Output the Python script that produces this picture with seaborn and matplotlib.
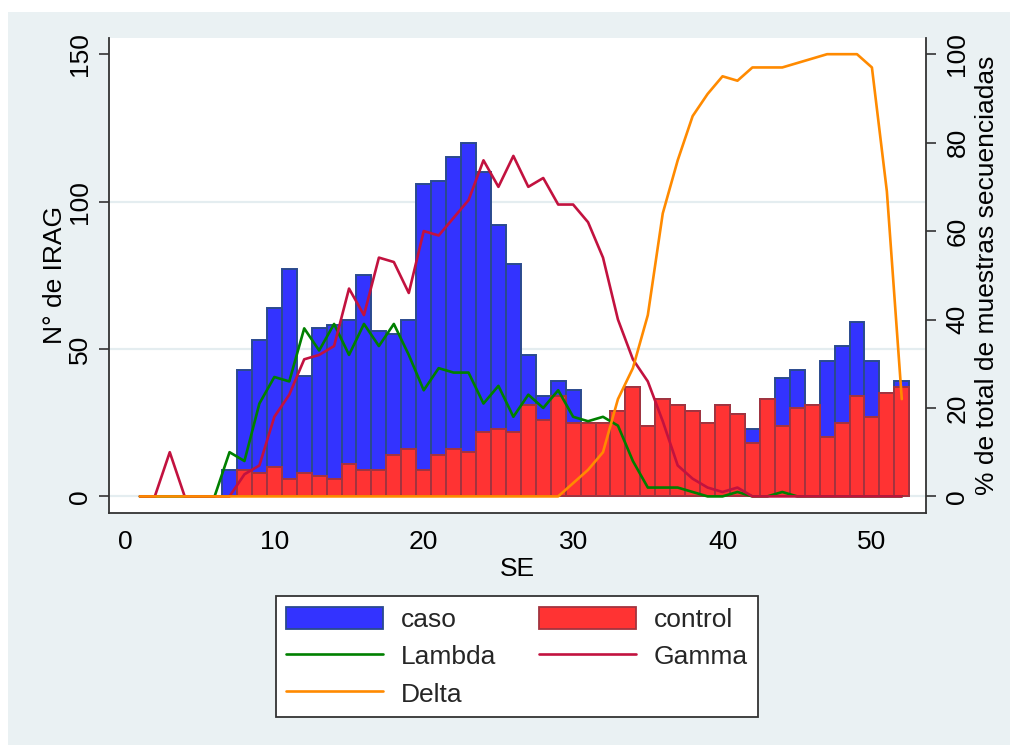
import matplotlib
matplotlib.use("Agg")
import matplotlib.pyplot as plt
import seaborn as sns
import pandas as pd
from matplotlib.patches import Rectangle, Patch
from matplotlib.lines import Line2D

# semanas epidemiologicas
weeks = list(range(1, 53))
bar_weeks = list(range(7, 53))

# N de IRAG por semana (semanas 7-52)
caso = [9, 43, 53, 64, 77, 41, 57, 58, 60, 75, 56, 55, 60, 106, 107, 115, 120,
        110, 92, 79, 48, 34, 39, 36, 25, 25, 29, 37, 24, 33, 31, 29, 25, 31, 28,
        23, 33, 40, 43, 31, 46, 51, 59, 46, 35, 39]
control = [0, 9, 8, 10, 6, 8, 7, 6, 11, 9, 9, 14, 16, 9, 14, 16, 15,
           22, 23, 22, 31, 26, 34, 25, 25, 25, 29, 37, 24, 33, 31, 29, 25, 31, 28,
           18, 33, 24, 30, 31, 20, 25, 34, 27, 35, 37]

# % de muestras secuenciadas por variante (semanas 1-52)
lambda_pct = [0, 0, 0, 0, 0, 0, 10, 8, 21, 27, 26, 38, 33, 39, 32, 39, 34, 39,
              32, 24, 29, 28, 28, 21, 25, 18, 23, 20, 24, 18, 17, 18, 16, 8, 2,
              2, 2, 1, 0, 0, 1, 0, 0, 1, 0, 0, 0, 0, 0, 0, 0, 0]
gamma_pct = [0, 0, 10, 0, 0, 0, 0, 5, 7, 18, 23, 31, 32, 34, 47, 41, 54, 53,
             46, 60, 59, 63, 67, 76, 70, 77, 70, 72, 66, 66, 62, 54, 40, 31, 26,
             17, 7, 4, 2, 1, 2, 0, 0, 0, 0, 0, 0, 0, 0, 0, 0, 0]
delta_pct = [0, 0, 0, 0, 0, 0, 0, 0, 0, 0, 0, 0, 0, 0, 0, 0, 0, 0, 0, 0, 0, 0,
             0, 0, 0, 0, 0, 0, 0, 3, 6, 10, 22, 29, 41, 64, 76, 86, 91, 95, 94,
             97, 97, 97, 98, 99, 100, 100, 100, 97, 69, 22]

BG = "#EAF1F3"
BLUE, BLUE_EDGE = "#3333FF", "#2A4A8E"
RED, RED_EDGE = "#FF3333", "#A3343F"
GREEN, CRIMSON, ORANGE = "#008000", "#C2123F", "#FF8A00"
AXC = "#333333"
FS = 19
LW = 1.9

sns.set_theme(style="white")
plt.rcParams["font.family"] = ["Liberation Sans", "DejaVu Sans"]

W, H = 1010, 745
fig = plt.figure(figsize=(W / 100, H / 100), dpi=100)
fig.patch.set_facecolor("white")
fig.add_artist(Rectangle((8 / W, 0), 1, 1 - 12 / H, transform=fig.transFigure,
                         facecolor=BG, edgecolor="none", zorder=-10))

left, right, top, bottom = 108.5, 926, 37.5, 513
ax = fig.add_axes([left / W, 1 - bottom / H, (right - left) / W, (bottom - top) / H])
ax.set_facecolor("white")

bars = pd.DataFrame({"SE": bar_weeks, "caso": caso, "control": control})
sns.barplot(data=bars, x="SE", y="caso", native_scale=True, orient="x", width=1,
            color=BLUE, edgecolor=BLUE_EDGE, linewidth=1.4, saturation=1,
            errorbar=None, ax=ax)
sns.barplot(data=bars, x="SE", y="control", native_scale=True, orient="x", width=1,
            color=RED, edgecolor=RED_EDGE, linewidth=1.4, saturation=1,
            errorbar=None, ax=ax)

ylo, yhi = -5.63, 155.66
ax.set_xlim(-1.10, 53.62)
ax.set_ylim(ylo, yhi)
ax.set_xticks(range(0, 51, 10))
ax.set_xticklabels([str(v) for v in range(0, 51, 10)], fontsize=FS)
ax.set_yticks([0, 50, 100, 150])
ax.set_yticklabels(["0", "50", "100", "150"], rotation=90, va="center", fontsize=FS)
ax.yaxis.grid(True, color="#E4EDF0", linewidth=1.6)
ax.get_ygridlines()[-1].set_visible(False)
ax.set_axisbelow(True)
ax.tick_params(axis="both", length=7.2, width=1.2, color=AXC, labelcolor="black")
ax.tick_params(axis="x", pad=5)
ax.tick_params(axis="y", pad=4.5)
for s in ["top", "right"]:
    ax.spines[s].set_visible(False)
for s in ["left", "bottom"]:
    ax.spines[s].set_color(AXC)
    ax.spines[s].set_linewidth(1.3)

ax.set_xlabel("SE", fontsize=FS, color="black")
ax.xaxis.set_label_coords(0.5, (bottom - 557.5) / (bottom - top))
ax.set_ylabel("N° de IRAG", fontsize=FS, color="black")
ax.yaxis.set_label_coords((67 - left) / (right - left), 0.5)

ax2 = ax.twinx()
sns.lineplot(x=weeks, y=lambda_pct, color=GREEN, linewidth=LW, ax=ax2)
sns.lineplot(x=weeks, y=gamma_pct, color=CRIMSON, linewidth=LW, ax=ax2)
sns.lineplot(x=weeks, y=delta_pct, color=ORANGE, linewidth=LW, ax=ax2)
ax2.set_ylim(ylo * 100 / 150, yhi * 100 / 150)
ax2.set_yticks(range(0, 101, 20))
ax2.set_yticklabels([str(v) for v in range(0, 101, 20)], rotation=90, va="center",
                    fontsize=FS)
ax2.tick_params(axis="y", length=7.2, width=1.2, color=AXC, labelcolor="black", pad=6.8)
for s in ["top", "left", "bottom"]:
    ax2.spines[s].set_visible(False)
ax2.spines["right"].set_color(AXC)
ax2.spines["right"].set_linewidth(1.3)
ax2.set_ylabel("% de total de muestras secuenciadas", fontsize=FS, color="black")
ax2.yaxis.set_label_coords((975 - left) / (right - left), 0.5)

# legend: row order caso/control, Lambda/Gamma, Delta
h_caso = Patch(facecolor=BLUE, edgecolor=BLUE_EDGE, linewidth=1.3, label="caso")
h_ctrl = Patch(facecolor=RED, edgecolor=RED_EDGE, linewidth=1.3, label="control")
h_lam = Line2D([], [], color=GREEN, linewidth=LW, label="Lambda")
h_gam = Line2D([], [], color=CRIMSON, linewidth=LW, label="Gamma")
h_del = Line2D([], [], color=ORANGE, linewidth=LW, label="Delta")
leg = fig.legend(handles=[h_caso, h_lam, h_del, h_ctrl, h_gam], ncol=2,
                 loc="upper center", bbox_to_anchor=(517 / W, 1 - 596 / H),
                 fontsize=FS, frameon=True, fancybox=False, framealpha=1,
                 handlelength=3.67, handleheight=0.95, handletextpad=0.68,
                 columnspacing=1.6, borderpad=0.4, labelspacing=0.45,
                 borderaxespad=0)
leg.get_frame().set_edgecolor(AXC)
leg.get_frame().set_linewidth(1.3)
leg.get_frame().set_facecolor("white")

fig.savefig("out.png", dpi=100, facecolor=fig.get_facecolor())
